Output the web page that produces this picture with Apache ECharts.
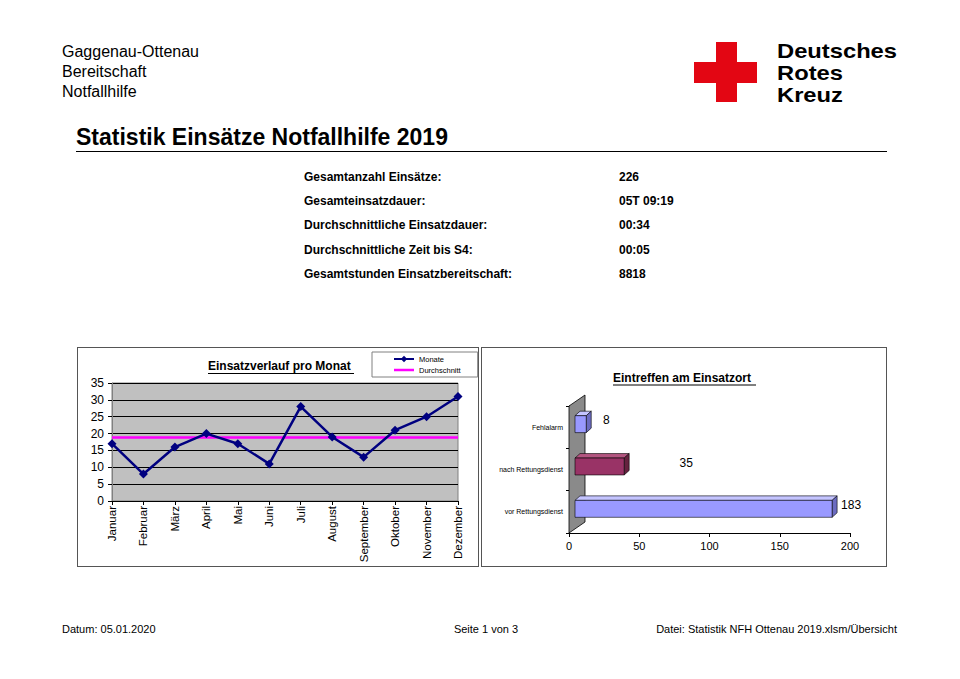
<!DOCTYPE html>
<html><head><meta charset="utf-8">
<script src="https://cdn.jsdelivr.net/npm/echarts@6/dist/echarts.min.js"></script>
<style>
html,body{margin:0;padding:0}
body{width:960px;height:679px;background:#fff;font-family:"Liberation Sans",Arial,sans-serif;position:relative;overflow:hidden}
.t{position:absolute;white-space:nowrap;color:#000}
.logo{position:absolute;left:777px;white-space:nowrap;font-size:21px;line-height:20px;font-weight:bold;color:#000;transform:scaleX(1.13);transform-origin:0 50%}
.box{position:absolute;border:1px solid #555;box-sizing:border-box;background:#fff}
#chart{position:absolute;left:0;top:0;width:960px;height:679px}
</style></head><body>
<div class="t" style="left:62px;top:42px;font-size:16px;line-height:20px">Gaggenau-Ottenau<br>Bereitschaft<br>Notfallhilfe</div>
<div style="position:absolute;left:694px;top:62px;width:63px;height:21px;background:#e30613"></div>
<div style="position:absolute;left:716px;top:42px;width:21px;height:60px;background:#e30613"></div>
<div class="logo" style="top:41.2px">Deutsches</div>
<div class="logo" style="top:63px">Rotes</div>
<div class="logo" style="top:84.7px">Kreuz</div>
<div class="t" style="left:76px;top:123.7px;font-size:23px;line-height:26px;font-weight:bold">Statistik Einsätze Notfallhilfe 2019</div>
<div style="position:absolute;left:76px;top:151px;width:811px;height:1.3px;background:#000"></div>
<div class="t" style="left:304px;top:164.6px;font-size:12px;line-height:24.4px;font-weight:bold">Gesamtanzahl Einsätze:<br>Gesamteinsatzdauer:<br>Durchschnittliche Einsatzdauer:<br>Durchschnittliche Zeit bis S4:<br>Gesamtstunden Einsatzbereitschaft:</div>
<div class="t" style="left:619px;top:164.6px;font-size:12px;line-height:24.4px;font-weight:bold">226<br>05T 09:19<br>00:34<br>00:05<br>8818</div>
<div class="box" style="left:77px;top:347px;width:402px;height:220px"></div>
<div class="box" style="left:481px;top:347px;width:406px;height:220px"></div>
<div class="t" style="left:62px;top:622.7px;font-size:11px;line-height:13px">Datum: 05.01.2020</div>
<div class="t" style="left:486px;top:622.7px;font-size:11px;line-height:13px;transform:translateX(-50%)">Seite 1 von 3</div>
<div class="t" style="right:63px;top:622.7px;font-size:11px;line-height:13px">Datei: Statistik NFH Ottenau 2019.xlsm/Übersicht</div>
<div id="chart"></div>
<script>
// ---- data ----
const monate = ['Januar','Februar','März','April','Mai','Juni','Juli','August','September','Oktober','November','Dezember'];
const einsaetzeProMonat = [17, 8, 16, 20, 17, 11, 28, 19, 13, 21, 25, 31];
const durchschnitt = 18.83;
const eintreffenKategorien = ['vor Rettungsdienst', 'nach Rettungsdienst', 'Fehlalarm'];
const eintreffenWerte = [183, 35, 8];

// ---- styles ----
const FONT = '"Liberation Sans", Arial, sans-serif';
const barColors = [
  {front:'#9999ff', top:'#c4c4ff', side:'#6b6bc0'},
  {front:'#993366', top:'#b35580', side:'#66223f'},
  {front:'#9999ff', top:'#c4c4ff', side:'#6b6bc0'}
];
const barLabelDx = [19, 62, 20];

const chart = echarts.init(document.getElementById('chart'), null, {renderer:'svg'});
chart.setOption({
  animation:false,
  backgroundColor:'transparent',
  textStyle:{fontFamily:FONT},
  graphic:[
    {type:'text', left:208, top:360, style:{text:'Einsatzverlauf pro Monat', fontSize:12, fontWeight:'bold', fontFamily:FONT, fill:'#000'}},
    {type:'line', shape:{x1:208, y1:373.5, x2:354, y2:373.5}, style:{stroke:'#000', lineWidth:1}},
    {type:'text', left:613, top:371.5, style:{text:'Eintreffen am Einsatzort', fontSize:12, fontWeight:'bold', fontFamily:FONT, fill:'#000'}},
    {type:'line', shape:{x1:613, y1:385, x2:756, y2:385}, style:{stroke:'#000', lineWidth:1}}
  ],
  legend:{
    data:[{name:'Monate'}, {name:'Durchschnitt', icon:'path://M0,0 L20,0 L20,2.5 L0,2.5 Z'}],
    orient:'vertical', left:372, top:352,
    padding:[3,17,3,21], itemGap:3, itemWidth:20, itemHeight:8,
    backgroundColor:'#fff', borderColor:'#808080', borderWidth:1,
    textStyle:{fontSize:7.5, color:'#000', fontFamily:FONT},
    selectedMode:false
  },
  grid:[
    {left:112, top:383, width:346, height:118, show:true, backgroundColor:'#c0c0c0', borderColor:'#808080', borderWidth:1},
    {left:569, top:406, width:281, height:127}
  ],
  xAxis:[
    {type:'category', gridIndex:0, data:monate, boundaryGap:false,
     axisLine:{lineStyle:{color:'#000', width:1}},
     axisTick:{show:true, length:4, lineStyle:{color:'#000'}},
     axisLabel:{rotate:90, fontSize:11.5, color:'#000', margin:5, fontFamily:FONT},
     splitLine:{show:false}},
    {type:'value', gridIndex:1, min:0, max:200, interval:50,
     axisLine:{show:true, lineStyle:{color:'#000'}},
     axisTick:{show:true, length:4, lineStyle:{color:'#000'}},
     axisLabel:{fontSize:11, color:'#000', margin:7, fontFamily:FONT},
     splitLine:{show:false}}
  ],
  yAxis:[
    {type:'value', gridIndex:0, min:0, max:35, interval:5,
     axisLine:{show:true, lineStyle:{color:'#808080'}},
     axisTick:{show:true, length:4, lineStyle:{color:'#000'}},
     axisLabel:{fontSize:12, color:'#000', margin:8, fontFamily:FONT},
     splitLine:{show:true, lineStyle:{color:'#000', width:1}}},
    {type:'category', gridIndex:1, data:eintreffenKategorien,
     axisLine:{show:true, lineStyle:{color:'#000'}},
     axisTick:{show:true, length:3, lineStyle:{color:'#000'}},
     axisLabel:{fontSize:7, color:'#000', margin:6, fontFamily:FONT},
     splitLine:{show:false}}
  ],
  series:[
    {name:'Durchschnitt', type:'line', xAxisIndex:0, yAxisIndex:0, data:[],
     color:'#ff00ff', symbol:'none', lineStyle:{color:'#ff00ff', width:2.5},
     itemStyle:{color:'#ff00ff'},
     markLine:{silent:true, symbol:'none', label:{show:false},
       lineStyle:{color:'#ff00ff', width:2.5, type:'solid'},
       data:[{yAxis:durchschnitt}]}, z:3},
    {name:'Monate', type:'line', xAxisIndex:0, yAxisIndex:0, data:einsaetzeProMonat,
     color:'#000080', symbol:'diamond', symbolSize:9,
     lineStyle:{color:'#000080', width:2.5}, itemStyle:{color:'#000080'}, z:5},
    {name:'wall', type:'custom', xAxisIndex:1, yAxisIndex:1, data:[[0,0]], silent:true, z:1,
     renderItem:function(params, api){
       const cs = params.coordSys;
       const dx = 16, dy = -11;
       const x = cs.x, y0 = cs.y, y1 = cs.y + cs.height;
       return {type:'polygon', shape:{points:[[x,y0],[x+dx,y0+dy],[x+dx,y1+dy],[x,y1]]},
               style:{fill:'#8a8a8a', stroke:'#000', lineWidth:0.8}};
     }},
    {name:'Eintreffen', type:'custom', xAxisIndex:1, yAxisIndex:1,
     data:eintreffenWerte.map(function(v,i){return [v,i];}),
     encode:{x:0, y:1}, z:2,
     renderItem:function(params, api){
       const val = api.value(0), idx = api.value(1);
       const p0 = api.coord([0, idx]), p1 = api.coord([val, idx]);
       const band = api.size([0,1])[1];
       const h = band*0.4;
       const ox = 6, oy = -3, ddx = 5, ddy = -4.5;
       const x0 = p0[0]+ox, x1 = p1[0]+ox, yc = p0[1]+oy;
       const yt = yc-h/2, yb = yc+h/2;
       const c = barColors[idx];
       return {type:'group', children:[
         {type:'polygon', shape:{points:[[x0,yt],[x0+ddx,yt+ddy],[x1+ddx,yt+ddy],[x1,yt]]}, style:{fill:c.top, stroke:'#000', lineWidth:0.6}},
         {type:'polygon', shape:{points:[[x1,yt],[x1+ddx,yt+ddy],[x1+ddx,yb+ddy],[x1,yb]]}, style:{fill:c.side, stroke:'#000', lineWidth:0.6}},
         {type:'rect', shape:{x:x0, y:yt, width:x1-x0, height:h}, style:{fill:c.front, stroke:'#000', lineWidth:0.6}},
         {type:'text', style:{text:String(val), x:x1+barLabelDx[idx], y:yc-4, align:'center', verticalAlign:'middle', fontSize:12, fontFamily:FONT, fill:'#000'}}
       ]};
     }}
  ]
});
</script>
</body></html>
